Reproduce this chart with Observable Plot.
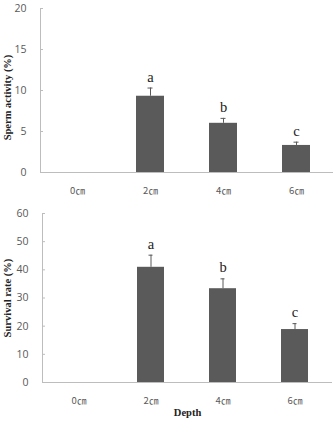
<!DOCTYPE html>
<html>
<head>
<meta charset="utf-8">
<script src="https://cdn.jsdelivr.net/npm/d3@7"></script>
<script src="https://cdn.jsdelivr.net/npm/@observablehq/plot@0.6"></script>
<style>
  html, body { margin: 0; padding: 0; background: #fff; }
  #charts { width: 335px; }
  #charts svg { display: block; }
</style>
</head>
<body>
<div id="charts"></div>
<script>
// Depth categories shared by both panels
const depths = ["0㎝", "2㎝", "4㎝", "6㎝"];

// Sperm activity (%) — means, upper error, significance letters
const activityMean = [0, 9.3, 6.0, 3.3];
const activityErr = [0, 1.0, 0.6, 0.4];
const activityLetters = ["", "a", "b", "c"];
const activityTicks = [0, 5, 10, 15, 20];

// Survival rate (%)
const survivalMean = [0, 40.9, 33.3, 18.8];
const survivalErr = [0, 4.3, 3.5, 2.1];
const survivalLetters = ["", "a", "b", "c"];
const survivalTicks = [0, 10, 20, 30, 40, 50, 60];

const barColor = "#5a5a5a";
const axisColor = "#bdbdbd";
const tickText = "#595959";

function rows(means, errs, letters) {
  return depths.map((d, i) => ({depth: d, value: means[i], err: errs[i], letter: letters[i]}));
}

function panel({data, ticks, yMax, yLabel, yLabelShift, height, marginTop, marginBottom, marginLeft, marginRight, xLabel, labelGap}) {
  const withBars = data.filter(d => d.value > 0);
  return Plot.plot({
    width: 335,
    height,
    marginTop,
    marginBottom,
    marginLeft,
    marginRight,
    style: {background: "#fff", overflow: "visible"},
    x: {domain: depths, paddingInner: 0.62, paddingOuter: 0.31, label: null},
    y: {domain: [0, yMax], label: null},
    marks: [
      Plot.frame({anchor: "left", stroke: axisColor}),
      Plot.axisY({ticks, tickSize: -3, stroke: axisColor, tickFormat: () => ""}),
      Plot.axisY({ticks, tickSize: 0, tickPadding: 14, fill: tickText,
        fontFamily: "Open Sans, DejaVu Sans, sans-serif", fontSize: 10.5, label: null}),
      Plot.axisX({tickSize: 0, tickPadding: 15, fill: tickText,
        fontFamily: "Noto Sans CJK SC, sans-serif", fontSize: 9.5, label: null}),
      Plot.barY(data, {x: "depth", y: "value", fill: barColor}),
      Plot.ruleY([0], {stroke: axisColor, strokeWidth: 1.2}),
      Plot.ruleX(withBars, {x: "depth", y1: "value", y2: d => d.value + d.err, stroke: barColor, strokeWidth: 1}),
      Plot.tickY(withBars, {x: "depth", y: d => d.value + d.err, stroke: barColor, strokeWidth: 1,
        insetLeft: 11.5, insetRight: 11.5}),
      Plot.text(withBars, {x: "depth", y: d => d.value + d.err, text: "letter", dy: -11,
        fontFamily: "Liberation Serif, serif", fontSize: 14.5, fill: "#222"}),
      Plot.text([yLabel], {frameAnchor: "left", textAnchor: "middle", dx: -marginLeft + 7, dy: yLabelShift, rotate: -90,
        fontFamily: "Liberation Serif, serif", fontWeight: "bold", fontSize: 10.5, fill: "#222"}),
      xLabel ? Plot.text([xLabel], {frameAnchor: "bottom", dy: labelGap,
        fontFamily: "Liberation Serif, serif", fontWeight: "bold", fontSize: 10.5, fill: "#222"}) : null
    ]
  });
}

const root = document.getElementById("charts");
root.append(panel({
  data: rows(activityMean, activityErr, activityLetters),
  ticks: activityTicks, yMax: 20, yLabel: "Sperm activity (%)", yLabelShift: 7,
  height: 200, marginTop: 8, marginBottom: 28, marginLeft: 40, marginRight: 2
}));
root.append(panel({
  data: rows(survivalMean, survivalErr, survivalLetters),
  ticks: survivalTicks, yMax: 60, yLabel: "Survival rate (%)", yLabelShift: 0,
  height: 221, marginTop: 13, marginBottom: 39, marginLeft: 42, marginRight: 3,
  xLabel: "Depth", labelGap: 33
}));
</script>
</body>
</html>
